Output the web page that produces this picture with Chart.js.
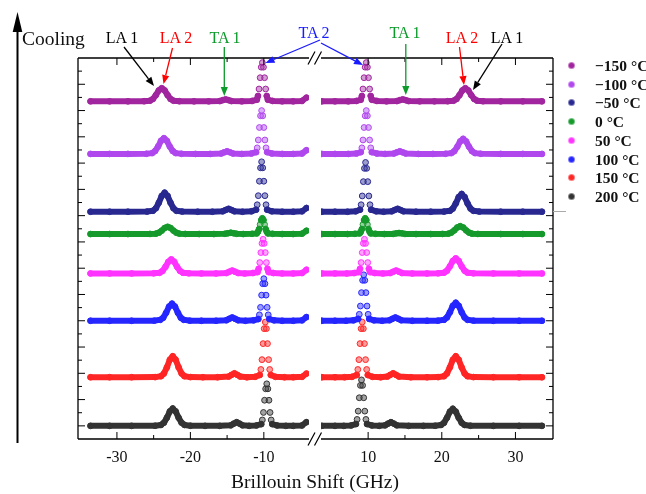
<!DOCTYPE html>
<html>
<head>
<meta charset="utf-8">
<script src="https://cdn.jsdelivr.net/npm/chart.js@4.4.0/dist/chart.umd.min.js"></script>
<style>
    body { margin: 0; width: 646px; height: 494px; background: #fff; position: relative; overflow: hidden; font-family: "Liberation Serif", serif; }
    canvas.plot { position: absolute; left: 0; top: 0; }
    #notes { position: absolute; left: 0; top: 0; }
    #xTitle { position: absolute; left: 215px; width: 200px; top: 471px; text-align: center; font-size: 19.5px; color: #111; }
    #legend { position: absolute; left: 553px; top: 57px; width: 93px; height: 155px; }
    .row { position: absolute; left: 0; height: 18px; white-space: nowrap; }
    .row i { position: absolute; left: 16px; top: 6px; width: 5px; height: 5px; border-radius: 50%; }
    .row span { position: absolute; left: 42px; top: 0; font-weight: bold; font-size: 15.5px; line-height: 18px; color: #111; }
</style>
</head>
<body>
<canvas id="leftChart" class="plot" width="646" height="494"></canvas>
<canvas id="rightChart" class="plot" width="646" height="494"></canvas>
<svg id="notes" width="646" height="494"></svg>
<div id="xTitle">Brillouin Shift (GHz)</div>
<div id="legend"></div>
<script>
// Series, top to bottom
const temps = ['\u2212150 \u00B0C', '\u2212100 \u00B0C', '\u221250 \u00B0C', '0 \u00B0C', '50 \u00B0C', '100 \u00B0C', '150 \u00B0C', '200 \u00B0C'];
const offsets = [24.7, 20.7, 16.3, 14.6, 11.6, 8.0, 3.7, 0];
const colors = ['#a0259e', '#b048ee', '#282890', '#169a2c', '#ff33ff', '#2626ff', '#ff2626', '#333333'];

// x tick labels shown on each half of the broken axis
const leftLabels = [-30, -20, -10];
const rightLabels = [10, 20, 30];

// Anti-Stokes side (negative shift), [GHz, intensity]
const leftM150 = [[-33.6,0],[-31,0],[-28.5,0],[-26.3,.01],
    [-25.5,.05],[-25.1,.18],[-24.7,.47],[-24.3,.83],[-23.9,1],[-23.5,.83],[-23.1,.47],[-22.7,.18],[-22.3,.05],
    [-21.5,.01],[-19.5,0],[-17.5,0],
    [-16,.02],[-15.6,.09],[-15.2,.15],[-14.8,.09],[-14.4,.02],
    [-13,0],[-11.6,.03],
    [-10.95,.12],[-10.8,.41],[-10.65,.94],[-10.5,1.8],[-10.35,2.6],[-10.2,2.95],[-10.05,2.6],[-9.9,1.8],[-9.75,.94],[-9.6,.41],[-9.45,.12],
    [-8.8,.03],[-7.5,0],[-6,0],[-4.8,.03],[-4.2,.28]];
const leftM100 = [[-33.6,0],[-31,0],[-28.5,0],[-26,.01],
    [-25.2,.06],[-24.8,.22],[-24.4,.56],[-24.0,1.0],[-23.6,1.2],[-23.2,1.0],[-22.8,.56],[-22.4,.22],[-22.0,.06],
    [-21.2,.01],[-19.3,0],[-17.3,0],
    [-15.8,.03],[-15.4,.12],[-15.0,.2],[-14.6,.12],[-14.2,.03],
    [-13,0],[-11.7,.03],
    [-11.05,.13],[-10.9,.46],[-10.75,1.06],[-10.6,2.01],[-10.45,2.9],[-10.3,3.3],[-10.15,2.9],[-10.0,2.01],[-9.85,1.06],[-9.7,.46],[-9.55,.13],
    [-8.9,.03],[-7.5,0],[-6,0],[-4.8,.03],[-4.2,.28]];
const leftM50 = [[-33.6,0],[-31,0],[-28.5,0],[-25.9,.01],
    [-25.1,.07],[-24.7,.26],[-24.3,.68],[-23.9,1.2],[-23.5,1.45],[-23.1,1.2],[-22.7,.68],[-22.3,.26],[-21.9,.07],
    [-21.1,.01],[-19,0],[-17,0],
    [-15.6,.03],[-15.2,.13],[-14.8,.22],[-14.4,.13],[-14.0,.03],
    [-12.9,0],[-11.7,.03],
    [-11.05,.15],[-10.9,.53],[-10.75,1.22],[-10.6,2.32],[-10.45,3.34],[-10.3,3.8],[-10.15,3.34],[-10.0,2.32],[-9.85,1.22],[-9.7,.53],[-9.55,.15],
    [-8.9,.03],[-7.5,0],[-6,0],[-4.8,.03],[-4.2,.28]];
const left0 = [[-33.6,0],[-31,0],[-28.5,0],[-25.5,.01],
    [-24.7,.03],[-24.3,.1],[-23.9,.26],[-23.5,.46],[-23.1,.55],[-22.7,.46],[-22.3,.26],[-21.9,.1],[-21.5,.03],
    [-20.7,.01],[-18.8,0],[-16.8,0],
    [-15.3,.02],[-14.9,.06],[-14.5,.1],[-14.1,.06],[-13.7,.02],
    [-12.8,0],[-11.6,.02],
    [-10.95,.05],[-10.8,.17],[-10.65,.38],[-10.5,.73],[-10.35,1.06],[-10.2,1.2],[-10.05,1.06],[-9.9,.73],[-9.75,.38],[-9.6,.17],[-9.45,.05],
    [-8.8,.02],[-7.5,0],[-6,0],[-4.8,.03],[-4.2,.25]];
const left50 = [[-33.6,0],[-31,0],[-28,0],[-25,.01],
    [-24.2,.05],[-23.8,.19],[-23.4,.5],[-23.0,.89],[-22.6,1.07],[-22.2,.89],[-21.8,.5],[-21.4,.19],[-21.0,.05],
    [-20.2,.01],[-18.5,0],[-16.5,0],
    [-15.1,.03],[-14.7,.13],[-14.3,.22],[-13.9,.13],[-13.5,.03],
    [-12.6,0],[-11.5,.03],
    [-10.85,.1],[-10.7,.36],[-10.55,.83],[-10.4,1.59],[-10.25,2.29],[-10.1,2.6],[-9.95,2.29],[-9.8,1.59],[-9.65,.83],[-9.5,.36],[-9.35,.1],
    [-8.7,.03],[-7.5,0],[-6,0],[-4.8,.03],[-4.2,.28]];
const left100 = [[-33.6,0],[-31,0],[-28,0],[-24.9,.01],
    [-24.1,.07],[-23.7,.23],[-23.3,.61],[-22.9,1.08],[-22.5,1.3],[-22.1,1.08],[-21.7,.61],[-21.3,.23],[-20.9,.07],
    [-20.1,.01],[-18.5,0],[-16.5,0],
    [-15.1,.04],[-14.7,.15],[-14.3,.25],[-13.9,.15],[-13.5,.04],
    [-12.5,0],[-11.4,.03],
    [-10.75,.13],[-10.6,.45],[-10.45,1.02],[-10.3,1.95],[-10.15,2.82],[-10.0,3.2],[-9.85,2.82],[-9.7,1.95],[-9.55,1.02],[-9.4,.45],[-9.25,.13],
    [-8.6,.03],[-7.5,0],[-6,0],[-4.8,.03],[-4.2,.28]];
const left150 = [[-33.6,0],[-31,0],[-28,0],[-24.8,.01],
    [-24.0,.08],[-23.6,.29],[-23.2,.75],[-22.8,1.33],[-22.4,1.6],[-22.0,1.33],[-21.6,.75],[-21.2,.29],[-20.8,.08],
    [-20,.01],[-18.3,0],[-16.3,0],
    [-14.8,.05],[-14.4,.18],[-14.0,.3],[-13.6,.18],[-13.2,.05],
    [-12.3,0],[-11.2,.03],
    [-10.55,.17],[-10.4,.59],[-10.25,1.34],[-10.1,2.56],[-9.95,3.7],[-9.8,4.2],[-9.65,3.7],[-9.5,2.56],[-9.35,1.34],[-9.2,.59],[-9.05,.17],
    [-8.4,.03],[-7.2,0],[-6,0],[-4.8,.03],[-4.2,.28]];
const left200 = [[-33.6,0],[-31,0],[-28,0],[-24.8,.01],
    [-24.0,.07],[-23.6,.24],[-23.2,.62],[-22.8,1.1],[-22.4,1.32],[-22.0,1.1],[-21.6,.62],[-21.2,.24],[-20.8,.07],
    [-20,.01],[-18,0],[-16,0],
    [-14.5,.04],[-14.1,.17],[-13.7,.28],[-13.3,.17],[-12.9,.04],
    [-12,0],[-11,.03],
    [-10.35,.13],[-10.2,.45],[-10.05,1.02],[-9.9,1.95],[-9.75,2.82],[-9.6,3.2],[-9.45,2.82],[-9.3,1.95],[-9.15,1.02],[-9.0,.45],[-8.85,.13],
    [-8.2,.03],[-7,0],[-6,0],[-4.8,.03],[-4.2,.28]];

// Stokes side (positive shift), [GHz, intensity]
const rightM150 = [[3.7,0],[5.5,0],[7.3,0],[8.4,.03],
    [9.0,.12],[9.15,.41],[9.3,.94],[9.45,1.8],[9.6,2.6],[9.75,2.95],[9.9,2.6],[10.05,1.8],[10.2,.94],[10.35,.41],[10.5,.12],
    [11.2,.03],[12.5,0],
    [13.9,.02],[14.3,.09],[14.7,.15],[15.1,.09],[15.5,.02],
    [17,0],[19,0],[20.8,.01],
    [21.6,.05],[22.0,.18],[22.4,.47],[22.8,.83],[23.2,1],[23.6,.83],[24.0,.47],[24.4,.18],[24.8,.05],
    [25.6,.01],[28,0],[31,0],[33.6,0]];
const rightM100 = [[3.7,0],[5.5,0],[7.3,0],[8.4,.03],
    [9.0,.13],[9.15,.46],[9.3,1.06],[9.45,2.01],[9.6,2.9],[9.75,3.3],[9.9,2.9],[10.05,2.01],[10.2,1.06],[10.35,.46],[10.5,.13],
    [11.2,.03],[12.3,0],
    [13.5,.03],[13.9,.12],[14.3,.2],[14.7,.12],[15.1,.03],
    [16.8,0],[18.8,0],[20.5,.01],
    [21.3,.06],[21.7,.21],[22.1,.54],[22.5,.95],[22.9,1.15],[23.3,.95],[23.7,.54],[24.1,.21],[24.5,.06],
    [25.3,.01],[28,0],[31,0],[33.6,0]];
const rightM50 = [[3.7,0],[5.5,0],[7.2,0],[8.3,.03],
    [8.9,.15],[9.05,.53],[9.2,1.2],[9.35,2.29],[9.5,3.3],[9.65,3.75],[9.8,3.3],[9.95,2.29],[10.1,1.2],[10.25,.53],[10.4,.15],
    [11.1,.03],[12.1,0],
    [13.2,.03],[13.6,.13],[14.0,.22],[14.4,.13],[14.8,.03],
    [16.5,0],[18.5,0],[20.3,.01],
    [21.1,.07],[21.5,.24],[21.9,.63],[22.3,1.12],[22.7,1.35],[23.1,1.12],[23.5,.63],[23.9,.24],[24.3,.07],
    [25.1,.01],[28,0],[31,0],[33.6,0]];
const right0 = [[3.7,0],[5.5,0],[7.2,0],[8.2,.02],
    [8.85,.05],[9.0,.17],[9.15,.38],[9.3,.73],[9.45,1.06],[9.6,1.2],[9.75,1.06],[9.9,.73],[10.05,.38],[10.2,.17],[10.35,.05],
    [11,.02],[12.2,0],
    [13.4,.01],[13.8,.05],[14.2,.08],[14.6,.05],[15.0,.01],
    [16.5,0],[18.5,0],[20.1,.01],
    [20.9,.03],[21.3,.11],[21.7,.28],[22.1,.5],[22.5,.6],[22.9,.5],[23.3,.28],[23.7,.11],[24.1,.03],
    [24.9,.01],[28,0],[31,0],[33.6,0]];
const right50 = [[3.7,0],[5.5,0],[7.1,0],[8.1,.03],
    [8.75,.1],[8.9,.36],[9.05,.83],[9.2,1.59],[9.35,2.29],[9.5,2.6],[9.65,2.29],[9.8,1.59],[9.95,.83],[10.1,.36],[10.25,.1],
    [10.9,.03],[12,0],
    [13.0,.03],[13.4,.13],[13.8,.22],[14.2,.13],[14.6,.03],
    [16,0],[18,0],[19.5,.01],
    [20.3,.06],[20.7,.21],[21.1,.54],[21.5,.95],[21.9,1.15],[22.3,.95],[22.7,.54],[23.1,.21],[23.5,.06],
    [24.3,.01],[27,0],[30.5,0],[33.6,0]];
const right100 = [[3.7,0],[5.5,0],[7,0],[8,.03],
    [8.65,.14],[8.8,.49],[8.95,1.12],[9.1,2.14],[9.25,3.08],[9.4,3.5],[9.55,3.08],[9.7,2.14],[9.85,1.12],[10.0,.49],[10.15,.14],
    [10.8,.03],[11.9,0],
    [12.9,.04],[13.3,.15],[13.7,.25],[14.1,.15],[14.5,.04],
    [16,0],[18,0],[19.5,.01],
    [20.3,.07],[20.7,.25],[21.1,.64],[21.5,1.14],[21.9,1.37],[22.3,1.14],[22.7,.64],[23.1,.25],[23.5,.07],
    [24.3,.01],[27,0],[30.5,0],[33.6,0]];
const right150 = [[3.7,0],[5.5,0],[6.8,0],[7.8,.03],
    [8.45,.17],[8.6,.59],[8.75,1.34],[8.9,2.56],[9.05,3.7],[9.2,4.2],[9.35,3.7],[9.5,2.56],[9.65,1.34],[9.8,.59],[9.95,.17],
    [10.6,.03],[11.7,0],
    [12.6,.05],[13.0,.18],[13.4,.3],[13.8,.18],[14.2,.05],
    [15.8,0],[18,0],[19.5,.01],
    [20.3,.08],[20.7,.29],[21.1,.75],[21.5,1.33],[21.9,1.6],[22.3,1.33],[22.7,.75],[23.1,.29],[23.5,.08],
    [24.3,.01],[27,0],[30.5,0],[33.6,0]];
const right200 = [[3.7,0],[5.5,0],[6.7,0],[7.7,.03],
    [8.35,.14],[8.5,.49],[8.65,1.12],[8.8,2.14],[8.95,3.08],[9.1,3.5],[9.25,3.08],[9.4,2.14],[9.55,1.12],[9.7,.49],[9.85,.14],
    [10.5,.03],[11.5,0],
    [12.3,.04],[12.7,.17],[13.1,.28],[13.5,.17],[13.9,.04],
    [15.5,0],[17.5,0],[19.1,.01],
    [19.9,.07],[20.3,.23],[20.7,.61],[21.1,1.08],[21.5,1.3],[21.9,1.08],[22.3,.61],[22.7,.23],[23.1,.07],
    [23.9,.01],[27,0],[30.5,0],[33.6,0]];

const leftSpectra = [leftM150, leftM100, leftM50, left0, left50, left100, left150, left200];
const rightSpectra = [rightM150, rightM100, rightM50, right0, right50, right100, right150, right200];

const SERIF = '"Liberation Serif", "Times New Roman", serif';

function withAlpha(hex, a) {
    const n = parseInt(hex.slice(1), 16);
    return `rgba(${(n >> 16) & 255}, ${(n >> 8) & 255}, ${n & 255}, ${a})`;
}

// hide the connecting stroke on the near-vertical flanks of the sharp peaks
function steep(ctx) {
    return Math.abs(ctx.p1.y - ctx.p0.y) > 4 && Math.abs(ctx.p1.x - ctx.p0.x) < 2;
}

// Box frame with inward ticks and the // break marks
const framePlugin = {
    id: 'frame',
    afterDraw(chart, args, opts) {
        const { ctx, chartArea: a, scales: { x, y } } = chart;
        const isLeft = opts.side === 'L';
        const vx = isLeft ? a.left : a.right;
        ctx.save();
        ctx.strokeStyle = '#000';
        ctx.lineWidth = 1.3;
        ctx.beginPath();
        ctx.moveTo(a.left, a.top); ctx.lineTo(a.right, a.top);
        ctx.moveTo(a.left, a.bottom); ctx.lineTo(a.right, a.bottom);
        ctx.moveTo(vx, a.top); ctx.lineTo(vx, a.bottom);
        ctx.stroke();

        ctx.lineWidth = 1;
        ctx.beginPath();
        x.ticks.forEach(t => {
            if (t.value % 5 !== 0) return;
            const px = x.getPixelForValue(t.value);
            if (px < a.left + 3 || px > a.right - 3) return;
            const len = t.value % 10 === 0 ? 7 : 4;
            ctx.moveTo(px, a.bottom); ctx.lineTo(px, a.bottom - len);
            ctx.moveTo(px, a.top); ctx.lineTo(px, a.top + len);
        });
        for (let v = Math.ceil(y.min); v <= y.max; v++) {
            const py = y.getPixelForValue(v);
            if (py > a.bottom - 3 || py < a.top + 3) continue;
            const len = v % 2 === 0 ? 7 : 4;
            ctx.moveTo(vx, py); ctx.lineTo(isLeft ? vx + len : vx - len, py);
        }
        ctx.stroke();

        if (isLeft) {
            ctx.lineWidth = 1.2;
            ctx.beginPath();
            [a.top, a.bottom].forEach(by => {
                [a.right + 2.5, a.right + 9].forEach(cx => {
                    ctx.moveTo(cx - 3.5, by + 6.5);
                    ctx.lineTo(cx + 3.5, by - 6.5);
                });
            });
            ctx.stroke();
        }
        ctx.restore();
    }
};

function makeChart(canvasId, spectra, xMin, xMax, padLeft, padRight, side, labels) {
    const canvas = document.getElementById(canvasId);
    return new Chart(canvas.getContext('2d'), {
        type: 'line',
        data: {
            datasets: temps.map((t, i) => ({
                label: t,
                data: spectra[i].map(p => ({ x: p[0], y: p[1] + offsets[i] })),
                borderColor: colors[i],
                backgroundColor: withAlpha(colors[i], 0.45),
                borderWidth: 6,
                borderJoinStyle: 'round',
                borderCapStyle: 'round',
                tension: 0,
                pointRadius: 2.9,
                pointBorderWidth: 1,
                pointBorderColor: colors[i],
                pointBackgroundColor: withAlpha(colors[i], 0.45),
                segment: {
                    borderColor: c => (steep(c) ? 'rgba(0,0,0,0)' : undefined)
                }
            }))
        },
        options: {
            responsive: false,
            animation: false,
            layout: { padding: { left: padLeft, right: padRight, top: 58, bottom: 0 } },
            plugins: {
                legend: { display: false },
                tooltip: { enabled: false },
                frame: { side: side }
            },
            scales: {
                x: {
                    type: 'linear',
                    min: xMin,
                    max: xMax,
                    afterFit: s => { s.height = 55; },
                    grid: { display: false, drawTicks: false },
                    border: { display: false },
                    ticks: {
                        stepSize: 5,
                        autoSkip: false,
                        maxRotation: 0,
                        padding: 9,
                        color: '#111',
                        font: { family: SERIF, size: 16 },
                        callback: v => (labels.includes(v) ? String(v) : '')
                    }
                },
                y: { display: false, min: -1, max: 28 }
            }
        },
        plugins: [framePlugin]
    });
}

makeChart('leftChart', leftSpectra, -35.3, -3.85, 78, 337, 'L', leftLabels);
makeChart('rightChart', rightSpectra, 3.6, 35.1, 321, 93, 'R', rightLabels);

// Legend
const legend = document.getElementById('legend');
temps.forEach((t, i) => {
    const row = document.createElement('div');
    row.className = 'row';
    row.style.top = (i * 18.7) + 'px';
    row.innerHTML = `<i style="background:${colors[i]};box-shadow:0 0 0 1px ${withAlpha(colors[i], 0.6)}"></i><span>${t}</span>`;
    legend.appendChild(row);
});

// Annotations: peak labels, arrows and the cooling arrow
const svgNS = 'http://www.w3.org/2000/svg';
const svg = document.getElementById('notes');

function el(name, attrs, text) {
    const e = document.createElementNS(svgNS, name);
    Object.entries(attrs).forEach(([k, v]) => e.setAttribute(k, v));
    if (text) e.textContent = text;
    svg.appendChild(e);
    return e;
}

function arrow(x1, y1, x2, y2, color, w, head, half) {
    const ang = Math.atan2(y2 - y1, x2 - x1);
    const bx = x2 - head * Math.cos(ang);
    const by = y2 - head * Math.sin(ang);
    el('line', { x1, y1, x2: bx, y2: by, stroke: color, 'stroke-width': w });
    const pts = [
        [x2, y2],
        [bx + half * Math.sin(ang), by - half * Math.cos(ang)],
        [bx - half * Math.sin(ang), by + half * Math.cos(ang)]
    ].map(p => p.join(',')).join(' ');
    el('polygon', { points: pts, fill: color });
}

const peakNotes = [
    { text: 'LA 1', color: '#000000', tx: 122, ty: 43, from: [124, 47], to: [154, 86] },
    { text: 'LA 2', color: '#ff0000', tx: 176, ty: 43, from: [172.5, 48], to: [163.5, 84] },
    { text: 'TA 1', color: '#0c9a2a', tx: 225, ty: 43, from: [224.3, 47], to: [224.3, 96] },
    { text: 'TA 2', color: '#1a1aff', tx: 314, ty: 38, from: [320, 40], to: [265.5, 63] },
    { text: '', color: '#1a1aff', tx: 0, ty: 0, from: [321, 43], to: [363, 65] },
    { text: 'TA 1', color: '#0c9a2a', tx: 405, ty: 38, from: [405.8, 44], to: [405.8, 95] },
    { text: 'LA 2', color: '#ff0000', tx: 462, ty: 43, from: [459.5, 47], to: [464, 85] },
    { text: 'LA 1', color: '#000000', tx: 507, ty: 43, from: [502, 44], to: [473, 90] }
];

peakNotes.forEach(n => {
    if (n.text) {
        el('text', { x: n.tx, y: n.ty, fill: n.color, 'font-family': SERIF, 'font-size': 16, 'text-anchor': 'middle' }, n.text);
    }
    arrow(n.from[0], n.from[1], n.to[0], n.to[1], n.color, 1.3, 9, 3.6);
});

arrow(17.5, 443, 17.5, 12, '#000', 2, 20, 4.8);
el('text', { x: 22, y: 45, fill: '#111', 'font-family': SERIF, 'font-size': 19.5 }, 'Cooling');

// thin corner of the legend box
el('line', { x1: 553, y1: 211.5, x2: 566, y2: 211.5, stroke: '#aaa', 'stroke-width': 1 });
</script>
</body>
</html>
